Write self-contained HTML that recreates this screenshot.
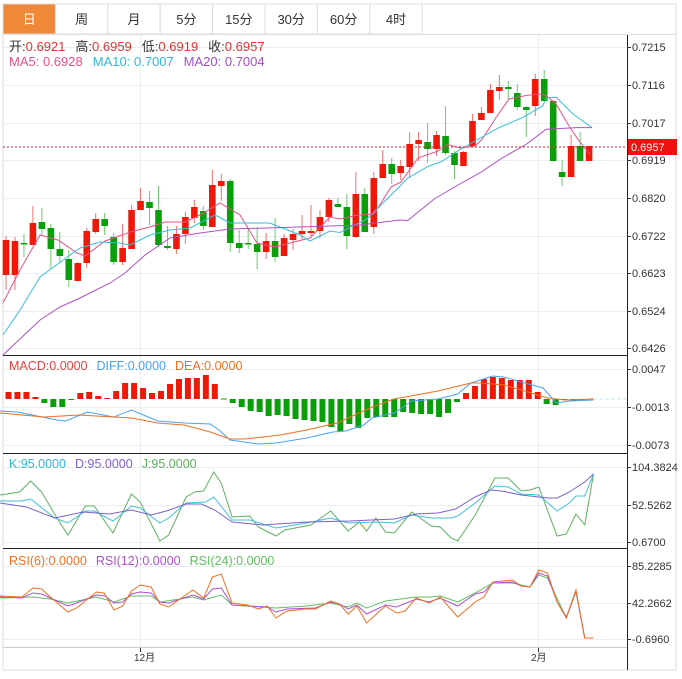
<!DOCTYPE html>
<html><head><meta charset="utf-8"><style>
body{margin:0;background:#fff;width:682px;height:679px;overflow:hidden;font-family:"Liberation Sans","Noto Sans CJK SC",sans-serif}
svg{position:absolute;left:0;top:0}
</style></head><body>
<svg id="s" width="682" height="679" xmlns="http://www.w3.org/2000/svg" font-family="Liberation Sans, Noto Sans CJK SC, sans-serif">
<rect x="3" y="4" width="673" height="666" fill="#fff" stroke="#ddd"/>
<g id="tabs"></g>
<g stroke="#e8eef2" stroke-width="1" id="grid"></g>
<g id="cand"></g>
<g fill="none" stroke-width="1">
<polyline stroke="#e8508a" points="3,303 20,270 40,235 58,240 77,253 85,256 105,241 130,232 150,227 165,222 185,222 200,215 220,203 240,215 257,243 275,247 290,243 310,238 330,217 340,219 355,215.5 374,214 391,187 401,182 418,158 438,151 448,144.5 460,148 475,146 482,139.5 496,117.5 509,99 526,95.5 539,94 546,95.5 556,104 570,127.6 577,138 590,154.7"/>
<polyline stroke="#35c0d8" points="3,335 20,310 40,277 70,255 80,248 100,242 120,243 130,245 150,235 170,230 190,228 215,215 230,223 270,223 300,235 310,241 330,231 340,232.5 367,219 391,195 408,178 428,166.5 441.5,161.5 458,151 475,141 499,127.6 522.6,117.5 543,105.6 546,98 556,97.2 573,114 592,127.6"/>
<polyline stroke="#b050c8" points="3,355 40,320 60,307 80,298 110,283 125,273 145,255 170,238 200,233 230,229 300,227 360,225 400,220 407.6,220.6 434.7,198.6 458,185 482,171.6 502,158 526,144.5 546,129.3 577,127.6 592,127.6"/>
</g>
<line x1="3" y1="147" x2="627" y2="147" stroke="#d02020" stroke-dasharray="2,2"/>
<rect x="627" y="139" width="50" height="16" fill="#f01010"/>
<text x="631" y="151" font-size="11" fill="#fff">0.6957</text>
<g id="macd"></g>
<g fill="none" stroke-width="1" transform="scale(0.438,1)">
<polyline vector-effect="non-scaling-stroke" stroke="#4aa3f0" points="0,411 40,412 130,420 150,421 200,412 260,417 300,410 360,421 420,423 480,424 500,430 525,440 590,444 630,443 700,438 760,432 790,431 830,425 850,418 900,413 940,401 1000,399 1045,394 1075,383 1125,376 1150,377 1190,382 1240,388 1270,403 1300,401 1355,400"/>
<polyline vector-effect="non-scaling-stroke" stroke="#f07020" points="0,413 100,417 180,415 260,417 300,418 360,423 420,425 480,432 525,439 560,439 640,435 700,430 770,423 850,407 900,399 1000,391 1075,383 1100,383 1150,385 1190,390 1250,398 1290,400 1355,399"/>
<polyline vector-effect="non-scaling-stroke" stroke="#b0e0f0" stroke-dasharray="3,3" points="1355,399 1430,399"/>
<polyline vector-effect="non-scaling-stroke" stroke="#60b060" points="0,495 45,492 70,481 95,492 130,518 155,535 195,506 215,506 258,533 300,494 320,502 365,541 385,535 425,497 445,492 465,491 488,472 505,483 530,517 570,516 590,527 630,536 650,530 710,525 755,511 795,531 820,522 837,531 858,518 880,532 900,533 940,512 985,526 1005,527 1030,538 1045,541 1085,515 1130,478 1160,478 1190,491 1210,490 1230,487 1272,536 1293,534 1315,514 1335,525 1355,474"/>
<polyline vector-effect="non-scaling-stroke" stroke="#40c0d8" points="0,501 50,501 70,499 125,518 155,523 195,511 215,511 258,521 300,506 320,508 365,523 385,518 425,503 470,502 488,497 530,520 570,520 630,528 700,523 755,518 795,523 858,522 900,523 940,515 985,518 1030,518 1045,516 1085,503 1130,486 1160,487 1190,494 1230,495 1272,511 1300,503 1315,496 1335,496 1355,474"/>
<polyline vector-effect="non-scaling-stroke" stroke="#8060c8" points="0,503 60,507 125,518 190,512 250,514 300,510 345,515 380,511 425,504 460,504 490,510 530,522 600,525 700,522 800,521 900,519 950,514 1000,513 1040,509 1085,497 1120,490 1145,491 1190,495 1250,498 1272,498 1300,492 1335,482 1355,474"/>
<polyline vector-effect="non-scaling-stroke" stroke="#60c060" points="0,598 75,597 115,599 155,603 220,597 260,602 300,596 345,596 365,602 440,597 465,600 505,595 530,605 630,608 700,606 755,603 795,607 815,603 837,608 880,601 950,597 980,597 1005,596 1045,602 1085,593 1125,583 1170,583 1210,587 1230,575 1250,578 1293,618 1315,592 1335,638 1355,638"/>
<polyline vector-effect="non-scaling-stroke" stroke="#b050d0" points="0,597 50,598 75,593 95,594 115,598 155,606 175,603 220,595 240,596 260,603 280,602 300,594 320,592 345,593 365,602 385,603 440,595 465,599 485,589 505,588 530,605 570,606 610,607 630,612 655,609 720,608 755,602 775,604 795,609 815,605 837,614 880,605 905,607 950,599 980,602 1005,598 1045,606 1085,594 1105,592 1125,583 1170,582 1190,586 1210,587 1230,573 1250,576 1272,602 1293,617 1315,591 1335,638 1355,638"/>
<polyline vector-effect="non-scaling-stroke" stroke="#f07020" points="0,596 50,597 75,588 95,589 115,597 155,612 175,608 220,592 238,593 260,610 280,606 300,591 320,585 345,587 365,604 385,607 440,590 465,598 485,577 505,574 530,603 565,605 590,609 610,606 630,618 655,611 700,609 720,609 755,601 775,604 795,614 815,606 837,623 880,606 905,613 925,611 950,598 980,603 1005,597 1045,617 1085,602 1105,597 1125,582 1170,580 1190,586 1210,587 1230,570 1250,573 1272,602 1293,618 1315,590 1335,638 1355,638"/>
</g>
<g stroke="#222" stroke-width="1">
<line x1="3" y1="355.5" x2="627" y2="355.5"/>
<line x1="3" y1="453.5" x2="627" y2="453.5"/>
<line x1="3" y1="548.5" x2="627" y2="548.5"/>
<line x1="627.5" y1="34" x2="627.5" y2="670"/>
</g>
<line x1="3" y1="647.5" x2="627" y2="647.5" stroke="#ccc"/>
<line x1="3" y1="34.5" x2="676" y2="34.5" stroke="#ddd"/>
<g font-size="11" fill="#333" id="ax"></g>
<g font-size="13">
<text x="9" y="51"><tspan fill="#333">开:</tspan><tspan fill="#e83030">0.6921</tspan><tspan fill="#333" dx="10">高:</tspan><tspan fill="#e83030">0.6959</tspan><tspan fill="#333" dx="10">低:</tspan><tspan fill="#e83030">0.6919</tspan><tspan fill="#333" dx="10">收:</tspan><tspan fill="#e83030">0.6957</tspan></text>
<text x="9" y="66"><tspan fill="#e8508a">MA5: 0.6928</tspan><tspan fill="#30b8d8" dx="10">MA10: 0.7007</tspan><tspan fill="#a050c0" dx="10">MA20: 0.7004</tspan></text>
</g>
<g font-size="12.5">
<text x="9" y="370"><tspan fill="#e84040">MACD:0.0000</tspan><tspan fill="#4aa3f0" dx="9">DIFF:0.0000</tspan><tspan fill="#f07020" dx="9">DEA:0.0000</tspan></text>
<text x="9" y="468"><tspan fill="#30b8d8">K:95.0000</tspan><tspan fill="#8060c8" dx="9">D:95.0000</tspan><tspan fill="#60b060" dx="9">J:95.0000</tspan></text>
<text x="9" y="565"><tspan fill="#f07020">RSI(6):0.0000</tspan><tspan fill="#b050d0" dx="9">RSI(12):0.0000</tspan><tspan fill="#60c060" dx="9">RSI(24):0.0000</tspan></text>
</g>
</svg>
<script>
var NS="http://www.w3.org/2000/svg";
function el(p,t,a){var e=document.createElementNS(NS,t);for(var k in a)e.setAttribute(k,a[k]);p.appendChild(e);return e;}
var tabs=document.getElementById('tabs'),names=['日','周','月','5分','15分','30分','60分','4时'];
for(var i=0;i<8;i++){var x=3+i*52.4;el(tabs,'rect',{x:x,y:4,width:52.4,height:30,fill:i==0?'#f0883a':'#fff',stroke:'#ddd'});
var t=el(tabs,'text',{x:x+26.2,y:24,'text-anchor':'middle','font-size':13,fill:i==0?'#fff':'#333'});t.textContent=names[i];}
var g=document.getElementById('grid'),ax=document.getElementById('ax');
var hl=[[47,'0.7215'],[85,'0.7116'],[123,'0.7017'],[160,'0.6919'],[198,'0.6820'],[236,'0.6722'],[273,'0.6623'],[311,'0.6524'],[348,'0.6426'],[369,'0.0047'],[407,'-0.0013'],[445,'-0.0073'],[467,'104.3824'],[505,'52.5262'],[542,'0.6700'],[566,'85.2285'],[603,'42.2662'],[639,'-0.6960']];
hl.forEach(function(h){el(g,'line',{x1:3,y1:h[0]+.5,x2:627,y2:h[0]+.5});el(ax,'line',{x1:627,y1:h[0]+.5,x2:631,y2:h[0]+.5,stroke:'#333'});var t=el(ax,'text',{x:632,y:h[0]+4});t.textContent=h[1];});
[140.5,538.5].forEach(function(x){el(g,'line',{x1:x,y1:34,x2:x,y2:647});el(ax,'line',{x1:x,y1:648,x2:x,y2:652,stroke:'#333'});});
var t1=el(ax,'text',{x:134,y:661,'font-size':10});t1.textContent='12月';var t2=el(ax,'text',{x:531,y:661,'font-size':10});t2.textContent='2月';
var C=[['r',240,275,236,290],['r',241,275,237,290],['g',243,244,234,257],['r',223,245,206,245],['g',222,229,208,236],['g',228,249,224,268],['g',249,256,232,263],['g',259,280,250,287],['r',263,281,262,281],['r',231,263,228,268],['r',219,232,213,234],['g',219,226,213,235],['g',237,262,233,265],['r',248,262,224,265],['r',210,249,205,249],['r',201,210,188,210],['g',202,208,191,225],['g',210,245,186,247],['g',246,248,226,250],['r',234,249,226,254],['r',217,234,212,244],['r',207,218,200,223],['g',211,226,206,230],['r',185,227,170,227],['r',181,186,174,201],['g',181,243,179,252],['g',243,248,230,253],['g',243,244,229,249],['g',244,252,227,269],['r',241,252,233,259],['g',241,257,218,262],['r',238,256,234,256],['r',234,240,229,250],['r',231,234,215,240],['r',231,233,205,236],['r',217,231,210,238],['r',200,217,198,222],['g',204,207,198,207],['g',207,236,194,249],['r',194,237,172,238],['g',194,232,188,232],['r',178,227,172,234],['r',164,178,150,178],['g',164,174,158,184],['r',166,173,160,180],['r',144,167,132,178],['r',140,144,132,161],['g',142,149,123,163],['r',135,149,131,156],['g',136,153,106,155],['g',153,165,151,179],['r',152,166,151,166],['r',121,146,114,146],['r',113,120,107,120],['r',90,113,84,113],['r',87,91,75,100],['g',87,89,81,99],['g',93,107,84,110],['g',107,110,106,137],['r',79,106,74,116],['g',79,101,70,102],['g',101,161,100,162],['g',172,177,160,186],['r',146,177,135,177],['g',146,161,132,161],['r',146,161,146,161]];
var cg=document.getElementById('cand');
C.forEach(function(c,i){var x=6+i*8.97,col=c[0]=='r'?'#f01808':'#0a9e0a',wc=c[0]=='r'?'#f07070':'#70c870';
el(cg,'line',{x1:x,y1:c[3],x2:x,y2:c[4],stroke:wc});var h=Math.max(1.5,c[2]-c[1]);el(cg,'rect',{x:x-3.3,y:c[1],width:6.6,height:h,fill:col});});
var M=[392,392,392,397,403,407,407,400,393,392,396,398,391,383,383,388,393,391,384,379,378,378,375,384,399,403,407,411,412,416,415,416,419,420,421,422,427,431,424,428,418,417,417,417,412,413,414,414,417,413,402,393,386,379,377,378,380,380,380,392,404,405,400,401,400,399];
var mg=document.getElementById('macd');
M.forEach(function(v,i){var x=8.5+i*8.97,z=399;if(Math.abs(v-z)<1){el(mg,'rect',{x:x-3,y:z-0.5,width:6,height:1,fill:'#0a9e0a'});return;}
el(mg,'rect',{x:x-3,y:Math.min(v,z),width:6,height:Math.abs(v-z),fill:v<z?'#f01808':'#0a9e0a'});});
</script>
</body></html>
